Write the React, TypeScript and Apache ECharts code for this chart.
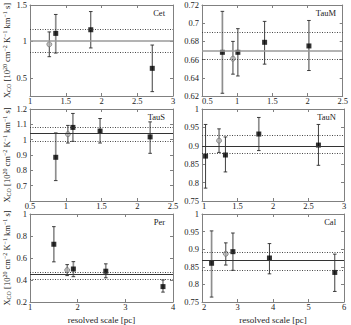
import React, { useEffect, useRef } from 'react';
import * as echarts from 'echarts';

// ---- Cet ----
const cetScale = [1.27, 1.36, 1.85, 2.71];
const cetXco = [0.96, 1.11, 1.16, 0.63];
const cetLow = [0.79, 0.84, 0.91, 0.31];
const cetHigh = [1.13, 1.37, 1.41, 0.95];
const cetAlt = [1, 0, 0, 0];
const cetLightBar = [0, 1, 0, 0];
const cetLevels = [1.01, 1.17, 0.85];

// ---- TauM ----
const taumScale = [0.79, 0.94, 1.01, 1.39, 2.02];
const taumXco = [0.668, 0.661, 0.668, 0.679, 0.675];
const taumLow = [0.623, 0.644, 0.642, 0.655, 0.648];
const taumHigh = [0.713, 0.68, 0.694, 0.702, 0.703];
const taumAlt = [0, 1, 0, 0, 0];
const taumLightBar = [1, 0, 0, 0, 0];
const taumLevels = [0.674, 0.688, 0.661];

// ---- TauS ----
const tausScale = [0.86, 1.03, 1.1, 1.48, 2.18];
const tausXco = [0.885, 1.036, 1.08, 1.056, 1.018];
const tausLow = [0.733, 0.978, 0.989, 0.978, 0.911];
const tausHigh = [1.044, 1.093, 1.171, 1.138, 1.116];
const tausAlt = [0, 1, 0, 0, 0];
const tausLightBar = [1, 0, 1, 1, 0];
const tausLevels = [1.038, 1.084, 0.991];

// ---- TauN ----
const taunScale = [1.05, 1.24, 1.33, 1.8, 2.64];
const taunXco = [0.872, 0.914, 0.875, 0.932, 0.902];
const taunLow = [0.785, 0.882, 0.829, 0.887, 0.847];
const taunHigh = [0.958, 0.946, 0.924, 0.977, 0.958];
const taunAlt = [0, 1, 0, 0, 0];
const taunLightBar = [0, 0, 0, 1, 0];
const taunLevels = [0.901, 0.927, 0.875];

// ---- Per ----
const perScale = [1.5, 1.78, 1.91, 2.59, 3.79];
const perXco = [0.725, 0.49, 0.5, 0.48, 0.34];
const perLow = [0.565, 0.44, 0.43, 0.42, 0.29];
const perHigh = [0.885, 0.54, 0.567, 0.547, 0.4];
const perAlt = [0, 1, 0, 0, 0];
const perLightBar = [1, 0, 1, 1, 0];
const perLevels = [0.445, 0.475, 0.41];

// ---- Cal ----
const calScale = [2.27, 2.67, 2.87, 3.9, 5.74];
const calXco = [0.86, 0.887, 0.893, 0.875, 0.834];
const calLow = [0.764, 0.855, 0.84, 0.83, 0.78];
const calHigh = [0.952, 0.918, 0.946, 0.916, 0.886];
const calAlt = [0, 1, 0, 0, 0];
const calLightBar = [1, 0, 1, 0, 0];
const calLevels = [0.867, 0.894, 0.84];

// ---- tick labels ----
const cetXTicks = [1, 1.5, 2, 2.5, 3];
const cetYTicks = [0.5, 1, 1.5];
const taumXTicks = [0.5, 1, 1.5, 2, 2.5];
const taumYTicks = [0.62, 0.64, 0.66, 0.68, 0.7, 0.72];
const tausXTicks = [0.5, 1, 1.5, 2, 2.5];
const tausYTicks = [0.7, 0.8, 0.9, 1, 1.1, 1.2];
const taunXTicks = [1, 1.5, 2, 2.5, 3];
const taunYTicks = [0.75, 0.8, 0.85, 0.9, 0.95, 1];
const perXTicks = [1, 2, 3, 4];
const perYTicks = [0.2, 0.4, 0.6, 0.8, 1];
const calXTicks = [2, 3, 4, 5, 6];
const calYTicks = [0.75, 0.8, 0.85, 0.9, 0.95, 1];

const panels = [
  { name: 'Cet', x: cetScale, y: cetXco, lo: cetLow, hi: cetHigh, alt: cetAlt, light: cetLightBar, lv: cetLevels, xt: cetXTicks, yt: cetYTicks, xr: [1, 3], yr: [0.25, 1.5], meanLight: true },
  { name: 'TauM', x: taumScale, y: taumXco, lo: taumLow, hi: taumHigh, alt: taumAlt, light: taumLightBar, lv: taumLevels, xt: taumXTicks, yt: taumYTicks, xr: [0.5, 2.5], yr: [0.62, 0.72], meanLight: true },
  { name: 'TauS', x: tausScale, y: tausXco, lo: tausLow, hi: tausHigh, alt: tausAlt, light: tausLightBar, lv: tausLevels, xt: tausXTicks, yt: tausYTicks, xr: [0.5, 2.5], yr: [0.6, 1.2], meanLight: false },
  { name: 'TauN', x: taunScale, y: taunXco, lo: taunLow, hi: taunHigh, alt: taunAlt, light: taunLightBar, lv: taunLevels, xt: taunXTicks, yt: taunYTicks, xr: [1, 3], yr: [0.75, 1], meanLight: false },
  { name: 'Per', x: perScale, y: perXco, lo: perLow, hi: perHigh, alt: perAlt, light: perLightBar, lv: perLevels, xt: perXTicks, yt: perYTicks, xr: [1, 4], yr: [0.2, 1], meanLight: false },
  { name: 'Cal', x: calScale, y: calXco, lo: calLow, hi: calHigh, alt: calAlt, light: calLightBar, lv: calLevels, xt: calXTicks, yt: calYTicks, xr: [2, 6], yr: [0.75, 1], meanLight: false },
];

const FONT = '"Liberation Serif", "DejaVu Serif", serif';
const cols = [{ left: 30, width: 143 }, { left: 202, width: 142 }];
const rows = [{ top: 5, height: 91 }, { top: 109, height: 92 }, { top: 214, height: 90 }];
const FRAME = '#808080';

export default function App() {
  const ref = useRef<HTMLDivElement>(null);
  useEffect(() => {
    if (!ref.current) return;
    const chart = echarts.init(ref.current, null, { renderer: 'svg' });
    const grid: any[] = [];
    const xAxis: any[] = [];
    const yAxis: any[] = [];
    const series: any[] = [];
    const graphic: any[] = [];

    panels.forEach((p, i) => {
      const c = cols[i % 2];
      const r = rows[Math.floor(i / 2)];
      grid.push({ left: c.left, top: r.top, width: c.width, height: r.height, containLabel: false });
      const isLeft = i % 2 === 0;
      const isBottom = i >= 4;
      const axLine = { show: true, lineStyle: { color: FRAME, width: 1 } };
      const tick = (vals: number[]) => ({ show: true, inside: true, length: 3, customValues: vals, lineStyle: { color: FRAME } });
      xAxis.push({
        type: 'value', gridIndex: i, position: 'bottom', min: p.xr[0], max: p.xr[1],
        axisLine: axLine, axisTick: tick(p.xt), splitLine: { show: false },
        axisLabel: {
          customValues: p.xt, fontFamily: FONT, fontSize: 8.5, lineHeight: 7, color: '#222', margin: 1,
          alignMinLabel: isLeft ? 'center' : 'left',
        },
        name: isBottom ? 'resolved scale [pc]' : '', nameLocation: 'middle', nameGap: 13,
        nameTextStyle: { fontFamily: FONT, fontSize: 9, color: '#222' },
      });
      xAxis.push({
        type: 'value', gridIndex: i, position: 'top', min: p.xr[0], max: p.xr[1],
        axisLine: axLine, axisTick: tick(p.xt), splitLine: { show: false }, axisLabel: { show: false },
      });
      yAxis.push({
        type: 'value', gridIndex: i, position: 'left', min: p.yr[0], max: p.yr[1],
        axisLine: axLine, axisTick: tick(p.yt), splitLine: { show: false },
        axisLabel: { customValues: p.yt, fontFamily: FONT, fontSize: 8.5, lineHeight: 7, color: '#222', margin: 3 },
        name: isLeft ? '{n|X}{sub|CO}{n| [10}{sup|20}{n| cm}{sup|−2}{n| K}{sup|−1}{n| km}{sup|−1}{n| s]}' : '',
        nameLocation: 'middle', nameRotate: 90, nameGap: 16,
        nameTextStyle: {
          fontFamily: FONT, color: '#222',
          rich: {
            n: { fontFamily: FONT, fontSize: 8.5, color: '#222' },
            sub: { fontFamily: FONT, fontSize: 6, color: '#222', padding: [4, 0, 0, 0] },
            sup: { fontFamily: FONT, fontSize: 6, color: '#222', padding: [0, 0, 4, 0] },
          },
        },
      });
      yAxis.push({
        type: 'value', gridIndex: i, position: 'right', min: p.yr[0], max: p.yr[1],
        axisLine: axLine, axisTick: tick(p.yt), splitLine: { show: false }, axisLabel: { show: false },
      });

      // reference levels
      series.push({
        type: 'line', xAxisIndex: 2 * i, yAxisIndex: 2 * i, data: [], silent: true,
        markLine: {
          symbol: 'none', silent: true, label: { show: false },
          data: [
            { yAxis: p.lv[0], lineStyle: { type: 'solid', color: p.meanLight ? '#9a9a9a' : '#333', width: p.meanLight ? 1.6 : 1 } },
            { yAxis: p.lv[1], lineStyle: { type: [1, 1.5], color: '#333', width: 0.9 } },
            { yAxis: p.lv[2], lineStyle: { type: [1, 1.5], color: '#333', width: 0.9 } },
          ],
        },
      });

      // error bars
      series.push({
        type: 'custom', xAxisIndex: 2 * i, yAxisIndex: 2 * i, silent: true,
        data: p.x.map((x, k) => [x, p.lo[k], p.hi[k], p.light[k]]),
        renderItem: (params: any, api: any) => {
          const x = api.value(0), lo = api.value(1), hi = api.value(2), light = api.value(3);
          const a = api.coord([x, hi]);
          const b = api.coord([x, lo]);
          const col = light ? '#8e8e8e' : '#2a2a2a';
          const w = light ? 1.7 : 0.9;
          return {
            type: 'group',
            children: [
              { type: 'line', shape: { x1: a[0], y1: a[1], x2: b[0], y2: b[1] }, style: { stroke: col, lineWidth: w } },
              { type: 'line', shape: { x1: a[0] - 1.8, y1: a[1], x2: a[0] + 1.8, y2: a[1] }, style: { stroke: '#2a2a2a', lineWidth: 0.9 } },
              { type: 'line', shape: { x1: b[0] - 1.8, y1: b[1], x2: b[0] + 1.8, y2: b[1] }, style: { stroke: '#2a2a2a', lineWidth: 0.9 } },
            ],
          };
        },
      });

      // markers
      series.push({
        type: 'scatter', xAxisIndex: 2 * i, yAxisIndex: 2 * i, silent: true,
        data: p.x.map((x, k) => p.alt[k] ? null : [x, p.y[k]]).filter(Boolean),
        symbol: 'rect', symbolSize: 5, itemStyle: { color: '#000' },
      });
      series.push({
        type: 'scatter', xAxisIndex: 2 * i, yAxisIndex: 2 * i, silent: true,
        data: p.x.map((x, k) => p.alt[k] ? [x, p.y[k]] : null).filter(Boolean),
        symbol: 'circle', symbolSize: 5, itemStyle: { color: '#b0b0b0', borderColor: '#6a6a6a', borderWidth: 0.8 },
      });

      graphic.push({
        type: 'text', right: 351 - (c.left + c.width) + 8, top: r.top + 3,
        style: { text: p.name, font: `8.5px ${FONT}`, fill: '#222' },
      });
    });

    chart.setOption({
      animation: false,
      backgroundColor: '#fff',
      grid, xAxis, yAxis, series, graphic,
    });
    return () => chart.dispose();
  }, []);
  return <div ref={ref} style={{ position: 'fixed', left: 0, top: 0, width: 351, height: 325 }} />;
}
